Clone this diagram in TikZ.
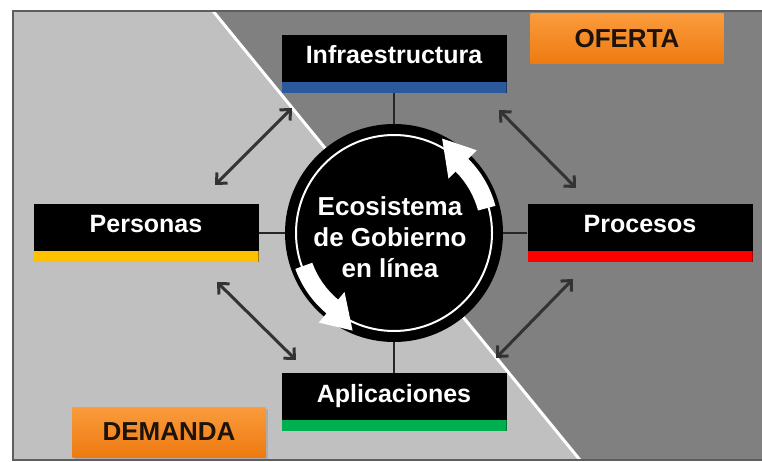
\documentclass[tikz,border=0pt]{standalone}
\usepackage{fontspec}
\setmainfont{Liberation Sans}
\usepackage{tikz}
\usetikzlibrary{arrows.meta,shadows}

\definecolor{lightbg}{HTML}{C0C0C0}
\definecolor{darkbg}{HTML}{808080}
\definecolor{framecol}{HTML}{5E5E5E}
\definecolor{barblue}{HTML}{2A5A9B}
\definecolor{baryellow}{HTML}{FFC000}
\definecolor{barred}{HTML}{FF0000}
\definecolor{bargreen}{HTML}{00B050}
\definecolor{orangetop}{HTML}{FA9B3C}
\definecolor{orangebot}{HTML}{EE7A10}
\definecolor{arrowgray}{HTML}{333333}

\begin{document}
\begin{tikzpicture}[x=1pt,y=-1pt,>={Straight Barb[length=8pt,width=15pt]},
  tab/.style={fill=black,text=white,minimum width=225pt,minimum height=58pt,
    text height=14pt,text depth=14pt,inner sep=0pt,
    font=\fontsize{25}{28}\selectfont\bfseries,
    path picture={\fill[#1] ([yshift=11pt]path picture bounding box.south west)
      rectangle (path picture bounding box.south east);}}]
 \tikzstyle{tag} = [minimum width=193pt,minimum height=50pt,top color=orangetop,
   bottom color=orangebot,text=black!85!brown,font=\fontsize{26}{28}\selectfont\bfseries,
   drop shadow={opacity=0.3,shadow xshift=2pt,shadow yshift=-2pt}]
 \tikzstyle{link} = [draw=black!85,line width=1.8pt]
 \tikzstyle{twoway} = [<->,draw=arrowgray,line width=3pt]
 \tikzstyle{turn} = [fill=white,shift={(eco.center)}]

% Background split in demand / offer
 \useasboundingbox (0,0) rectangle (762,462);
 \fill[white] (0,0) rectangle (762,462);
 \fill[lightbg] (13,11) rectangle (762,460);
 \fill[darkbg] (213,11) -- (762,11) -- (762,460) -- (580,460) -- cycle;
 \draw[white,line width=3pt] (213,11) -- (580,460);
 \draw[framecol,line width=2pt] (762,11) -- (13,11) -- (13,460) -- (762,460);

% Ecosystem in the middle
 \node[circle,fill=black,minimum size=218pt,inner sep=0pt] (eco) at (394,233) {};
 \draw[white,line width=2pt] (eco.center) circle (98);
 \fill[turn] (-15:87) arc[start angle=-15,end angle=-45,radius=87] -- (-45:77)
   -- (-63:106) -- (-45:117) -- (-45:105) arc[start angle=-45,end angle=-15,radius=105] -- cycle;
 \fill[turn] (160:87) arc[start angle=160,end angle=130,radius=87] -- (130:77)
   -- (113:106) -- (130:117) -- (130:105) arc[start angle=130,end angle=160,radius=105] -- cycle;
 \node[text=white,align=center,font=\fontsize{26}{31}\selectfont\bfseries] (ecotext)
   at (390,237) {Ecosistema\\de Gobierno\\en línea};

% Boxes
 \node[tab=barblue] (infra) at (394,64) {Infraestructura};
 \node[tab=baryellow] (personas) at (146,233) {Personas};
 \node[tab=barred] (procesos) at (640,233) {Procesos};
 \node[tab=bargreen] (aplic) at (394,402) {Aplicaciones};

 \draw[link] (infra) -- (eco);
 \draw[link] (personas) -- (eco);
 \draw[link] (procesos) -- (eco);
 \draw[link] (aplic) -- (eco);

% Two-way arrows
 \coordinate (ul1) at (215,185); \coordinate (ul2) at (292,108);
 \coordinate (ur1) at (499,110); \coordinate (ur2) at (576,188);
 \coordinate (lr1) at (573,279); \coordinate (lr2) at (496,358);
 \coordinate (ll1) at (217,282); \coordinate (ll2) at (296,360);
 \draw[twoway] (ul1) -- (ul2);
 \draw[twoway] (ur1) -- (ur2);
 \draw[twoway] (lr1) -- (lr2);
 \draw[twoway] (ll1) -- (ll2);

% Labels
 \node[tag] (oferta) at (627,39) {OFERTA};
 \node[tag] (demanda) at (169,432) {DEMANDA};

\end{tikzpicture}
\end{document}
